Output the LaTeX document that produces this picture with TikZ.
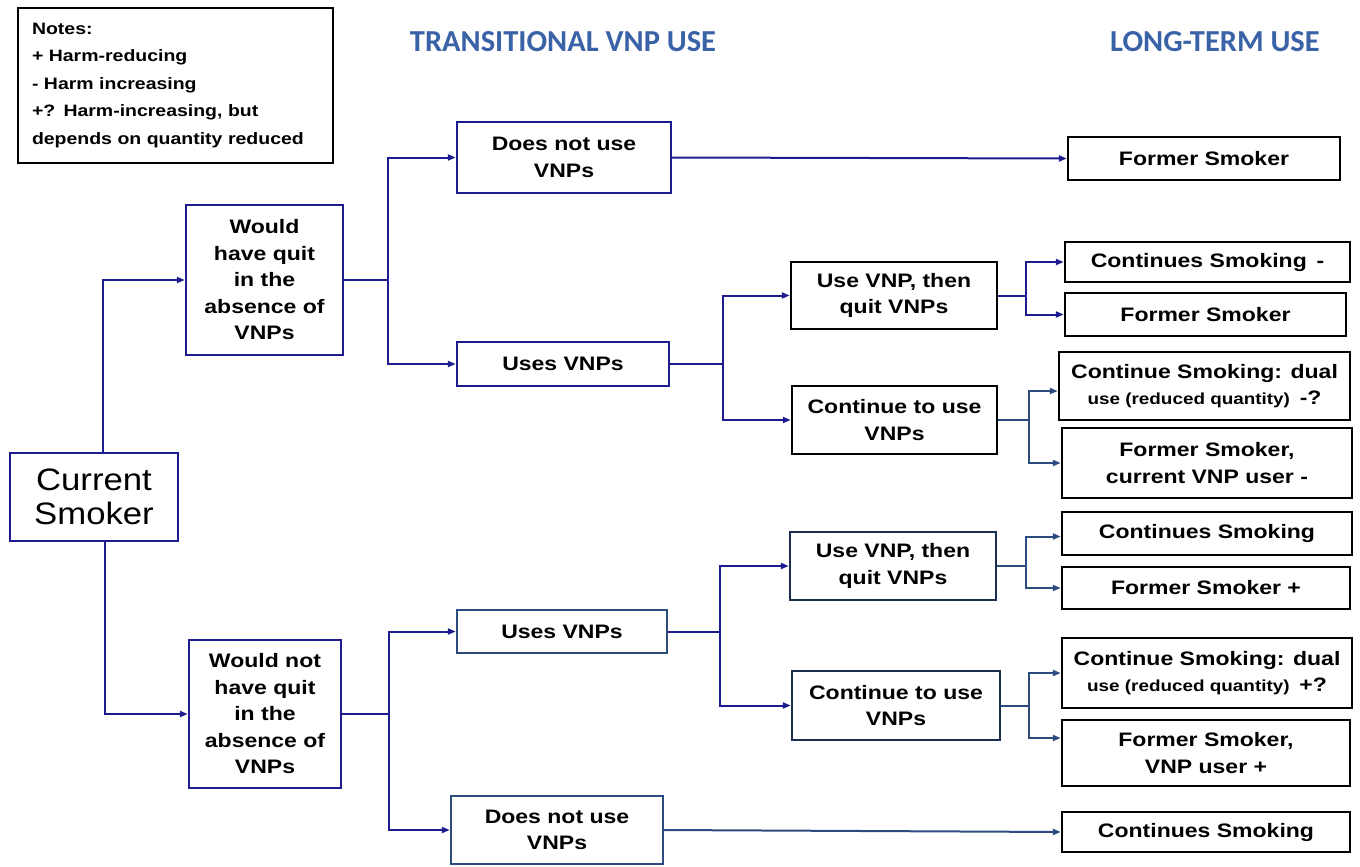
\documentclass[tikz,border=0pt]{standalone}
\usepackage{fontspec}
\usetikzlibrary{arrows.meta,calc}
\newfontfamily\bx{Liberation Sans Bold}[FakeStretch=1.18]
\newfontfamily\bigf{Liberation Sans}[FakeStretch=1.12]
\newfontfamily\hdf{Carlito Bold}
\definecolor{navy}{HTML}{1C1C8E}
\definecolor{steel}{HTML}{2C4C80}
\definecolor{hdblue}{HTML}{3A62A7}
\tikzset{
  box/.style={draw=black, line width=2.4pt, fill=white, align=center, inner sep=2pt,
    font=\bx\fontsize{19.5}{26.5}\selectfont},
  bbox/.style={box, draw=navy},
  conn/.style={draw=navy, line width=2pt},
  sconn/.style={draw=steel, line width=2pt},
  arr/.style={-{Triangle[length=8pt,width=6pt]}},
  hd/.style={text=hdblue, font=\hdf\fontsize{30.5}{34}\selectfont, inner sep=0pt}
}
\begin{document}
\begin{tikzpicture}[x=1pt,y=-1pt]
\useasboundingbox (0,0) rectangle (1360,867);
% notes
\node[draw=black, line width=2.4pt, align=left, minimum width=315, minimum height=155,
  text width=287, inner xsep=13pt, inner ysep=6pt, font=\bx\fontsize{16.5}{27.5}\selectfont] (notes) at (175.5,85.5)
  {Notes:\\+ Harm-reducing\\- Harm increasing\\+? Harm-increasing, but\\depends on quantity reduced};
% headers
\node[hd] (h1) at (563,42) {TRANSITIONAL VNP USE};
\node[hd] (h2) at (1215,42) {LONG-TERM USE};
% left
\node[bbox, minimum width=168, minimum height=88, font=\bigf\fontsize{31}{34}\selectfont] (cur) at (94,497) {Current\\Smoker};
\node[bbox, minimum width=157, minimum height=150] (wq) at (264.5,280) {Would\\have quit\\in the\\absence of\\VNPs};
\node[bbox, minimum width=152, minimum height=148] (wnq) at (265,714) {Would not\\have quit\\in the\\absence of\\VNPs};
% middle
\node[bbox, minimum width=214, minimum height=71] (dn1) at (564,157.5) {Does not use\\VNPs};
\node[bbox, minimum width=212, minimum height=44] (u1) at (563,364) {Uses VNPs};
\node[box, minimum width=206, minimum height=67] (q1) at (894,295.5) {Use VNP, then\\quit VNPs};
\node[box, minimum width=205, minimum height=68] (c1) at (894.5,420) {Continue to use\\VNPs};
\node[bbox, draw=steel, minimum width=210, minimum height=43] (u2) at (562,631.5) {Uses VNPs};
\node[box, draw=steel!60!black, minimum width=206, minimum height=68] (q2) at (893,566) {Use VNP, then\\quit VNPs};
\node[box, draw=steel!60!black, minimum width=208, minimum height=69] (c2) at (896,705.5) {Continue to use\\VNPs};
\node[bbox, draw=steel, minimum width=212, minimum height=68] (dn2) at (557,830) {Does not use\\VNPs};
% right
\node[box, minimum width=272, minimum height=43] (r1) at (1204,158.5) {Former Smoker};
\node[box, minimum width=285, minimum height=40] (r2) at (1207.5,262) {Continues Smoking\enspace -};
\node[box, minimum width=281, minimum height=43] (r3) at (1205.5,314.5) {Former Smoker};
\node[box, minimum width=291, minimum height=68] (r4) at (1204.5,386) {Continue Smoking: dual\\{\fontsize{16}{26.5}\selectfont use (reduced quantity)}\enspace -?};
\node[box, minimum width=290, minimum height=70] (r5) at (1207,463) {Former Smoker,\\current VNP user -};
\node[box, minimum width=290, minimum height=43] (r6) at (1207,533.5) {Continues Smoking};
\node[box, minimum width=288, minimum height=42] (r7) at (1206,588) {Former Smoker +};
\node[box, minimum width=290, minimum height=70] (r8) at (1207,673) {Continue Smoking: dual\\{\fontsize{16}{26.5}\selectfont use (reduced quantity)}\enspace +?};
\node[box, minimum width=288, minimum height=66] (r9) at (1206,753) {Former Smoker,\\VNP user +};
\node[box, minimum width=288, minimum height=40] (r10) at (1206,832) {Continues Smoking};
% connectors
\draw[conn,arr] ([xshift=9pt]cur.north) |- (wq.west);
\draw[conn,arr] ([xshift=11pt]cur.south) |- (wnq.west);
\draw[conn] (wq.east) -- ++(44,0) coordinate (j1);
\draw[conn,arr] (j1) |- (dn1.west);
\draw[conn,arr] (j1) |- (u1.west);
\draw[conn] (wnq.east) -- ++(47,0) coordinate (j2);
\draw[conn,arr] (j2) |- (u2.west);
\draw[conn,arr] (j2) |- (dn2.west);
\draw[conn] (u1.east) -- ++(53,0) coordinate (j3);
\draw[conn,arr] (j3) |- (q1.west);
\draw[conn,arr] (j3) |- (c1.west);
\draw[conn] (u2.east) -- ++(52,0) coordinate (j4);
\draw[conn,arr] (j4) |- (q2.west);
\draw[conn,arr] (j4) |- (c2.west);
\draw[conn] (q1.east) -- ++(28,0) coordinate (j5);
\draw[conn,arr] (j5) |- (r2.west);
\draw[conn,arr] (j5) |- (r3.west);
\draw[sconn] (c1.east) -- ++(31,0) coordinate (j6);
\draw[sconn,arr] (j6) |- ([yshift=-5pt]r4.west);
\draw[sconn,arr] (j6) |- (r5.west);
\draw[sconn] (q2.east) -- ++(29,0) coordinate (j7);
\draw[sconn,arr] (j7) |- ([yshift=-3pt]r6.west);
\draw[sconn,arr] (j7) |- (r7.west);
\draw[sconn] (c2.east) -- ++(28,0) coordinate (j8);
\draw[sconn,arr] (j8) |- (r8.west);
\draw[sconn,arr] (j8) |- ([yshift=15pt]r9.west);
\draw[conn,arr] (dn1.east) -- (r1.west);
\draw[sconn,arr] (dn2.east) -- (r10.west);
\end{tikzpicture}
\end{document}
